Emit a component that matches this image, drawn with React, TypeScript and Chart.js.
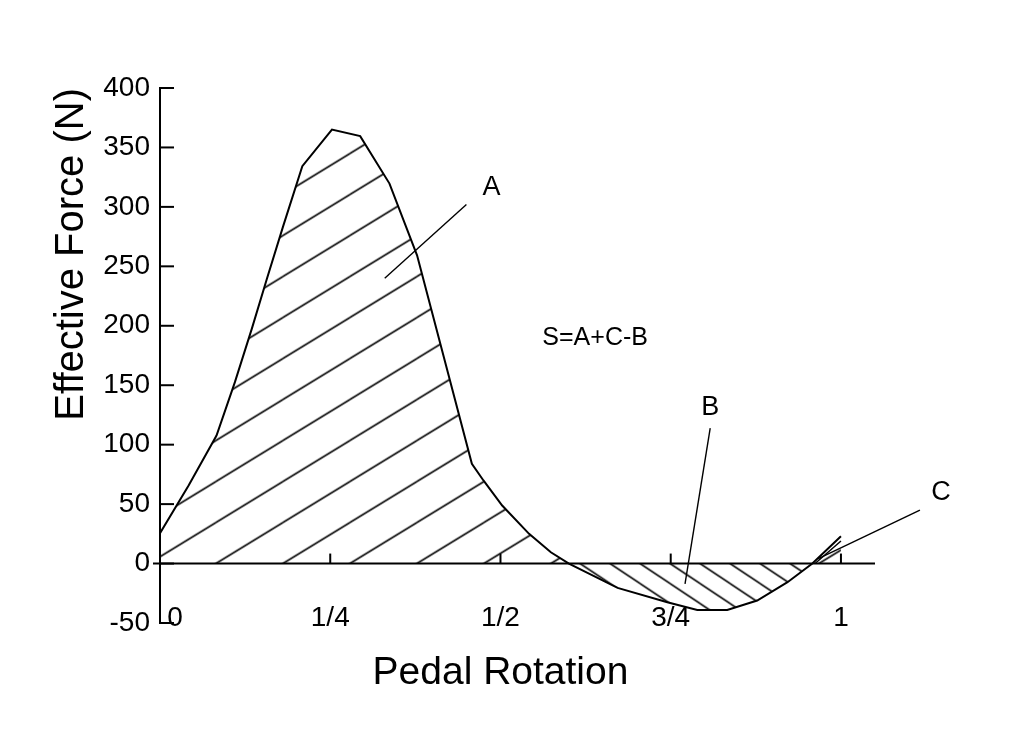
import { useEffect, useRef } from "react";
import { Chart, ChartConfiguration, Plugin, registerables } from "chart.js";

Chart.register(...registerables);

// pedal rotation (fraction of a turn) and effective force (N)
const rotation = [
  0, 0.042, 0.083, 0.11, 0.135, 0.157, 0.181, 0.209, 0.2525, 0.294, 0.337, 0.3775,
  0.458, 0.475, 0.5025, 0.542, 0.574, 0.6005, 0.672, 0.745, 0.789, 0.833, 0.877,
  0.9215, 0.958, 1.0,
];
const force = [
  25.5, 65.7, 107.7, 152.6, 197.8, 239.6, 284, 334.2, 365, 359.5, 319.6, 259.3,
  83.9, 69.9, 48.8, 25, 9.5, 0, -20.5, -32.6, -39, -39, -31.1,
  -15.7, 0, 23,
];

// second short stroke at the end of the cycle
const endStrokeRotation = [0.962, 1.0];
const endStrokeForce = [0, 19];

const yTickValues = [-50, 0, 50, 100, 150, 200, 250, 300, 350, 400];
const xTickValues = [0, 0.25, 0.5, 0.75, 1];
const xTickLabels = ["0", "1/4", "1/2", "3/4", "1"];

// callout texts and their anchor points (data units)
const calloutTexts = ["A", "S=A+C-B", "B", "C"];
const calloutX = [0.487, 0.639, 0.808, 1.147];
const calloutY = [316, 190, 131, 60];

// leader lines: start (near label) -> end (in region)
const leaderX1 = [0.45, 0.808, 1.116];
const leaderY1 = [302, 114, 45];
const leaderX2 = [0.33, 0.771, 0.966];
const leaderY2 = [240, -17, 4];

// where a hatch line meets the zero line
const hatchAnchorAbove = 0.082;
const hatchAnchorBelow = 0.661;

const FONT = "'Liberation Sans', Arial, sans-serif";

function makeHatch(w: number, h: number, rising: boolean) {
  const c = document.createElement("canvas");
  c.width = w;
  c.height = h;
  const g = c.getContext("2d")!;
  g.strokeStyle = "#000";
  g.lineWidth = 1.6;
  for (const dx of [-w, 0, w]) {
    for (const dy of [-h, 0, h]) {
      g.beginPath();
      if (rising) {
        g.moveTo(dx, h + dy);
        g.lineTo(w + dx, dy);
      } else {
        g.moveTo(dx, dy);
        g.lineTo(w + dx, h + dy);
      }
      g.stroke();
    }
  }
  const ctx = document.createElement("canvas").getContext("2d")!;
  return ctx.createPattern(c, "repeat")!;
}

export default function App() {
  const canvasRef = useRef<HTMLCanvasElement>(null);
  const chartRef = useRef<Chart | null>(null);

  useEffect(() => {
    document.body.style.margin = "0";
    if (!canvasRef.current) return;
    if (chartRef.current) chartRef.current.destroy();

    const ctx = canvasRef.current.getContext("2d");
    if (!ctx) return;

    const hatchAbove = makeHatch(67, 41, true);
    const hatchBelow = makeHatch(30, 20, false);

    const axesPlugin: Plugin = {
      id: "drawingAxes",
      beforeDatasetsDraw(chart) {
        const x = chart.scales.x;
        const y = chart.scales.y;
        const y0 = y.getPixelForValue(0);
        hatchAbove.setTransform(new DOMMatrix().translate(x.getPixelForValue(hatchAnchorAbove), y0));
        hatchBelow.setTransform(new DOMMatrix().translate(x.getPixelForValue(hatchAnchorBelow), y0));
      },
      afterDatasetsDraw(chart) {
        const c = chart.ctx;
        const x = chart.scales.x;
        const y = chart.scales.y;
        const area = chart.chartArea;
        const y0 = y.getPixelForValue(0);
        c.save();
        c.strokeStyle = "#000";
        c.fillStyle = "#000";
        c.lineWidth = 2;

        // zero line
        c.beginPath();
        c.moveTo(area.left - 7, y0);
        c.lineTo(area.right, y0);
        c.stroke();

        // inward y ticks
        yTickValues.forEach((v) => {
          const py = y.getPixelForValue(v);
          c.beginPath();
          c.moveTo(area.left, py);
          c.lineTo(area.left + 14, py);
          c.stroke();
        });

        // x ticks rising from zero line
        xTickValues.forEach((v) => {
          if (v === 0) return;
          const px = x.getPixelForValue(v);
          c.beginPath();
          c.moveTo(px, y0);
          c.lineTo(px, y0 - 10);
          c.stroke();
        });

        // x tick labels
        c.font = `28px ${FONT}`;
        c.textAlign = "center";
        c.textBaseline = "middle";
        xTickValues.forEach((v, i) => {
          let px = x.getPixelForValue(v);
          if (v === 0) px += 15;
          c.fillText(xTickLabels[i], px, area.bottom - 5);
        });

        // x title
        c.font = `39px ${FONT}`;
        c.fillText("Pedal Rotation", x.getPixelForValue(0.5), area.bottom + 50);

        // leaders
        c.lineWidth = 1.4;
        leaderX1.forEach((_, i) => {
          c.beginPath();
          c.moveTo(x.getPixelForValue(leaderX1[i]), y.getPixelForValue(leaderY1[i]));
          c.lineTo(x.getPixelForValue(leaderX2[i]), y.getPixelForValue(leaderY2[i]));
          c.stroke();
        });

        // callout texts
        calloutTexts.forEach((t, i) => {
          c.font = `${i === 1 ? 25 : 27}px ${FONT}`;
          c.fillText(t, x.getPixelForValue(calloutX[i]), y.getPixelForValue(calloutY[i]));
        });
        c.restore();
      },
    };

    const config: ChartConfiguration = {
      type: "line",
      data: {
        datasets: [
          {
            label: "Effective force",
            data: rotation.map((r, i) => ({ x: r, y: force[i] })),
            borderColor: "#000",
            borderWidth: 2,
            pointRadius: 0,
            tension: 0,
            fill: { target: "origin", above: hatchAbove, below: hatchBelow },
          },
          {
            label: "End stroke",
            data: endStrokeRotation.map((r, i) => ({ x: r, y: endStrokeForce[i] })),
            borderColor: "#000",
            borderWidth: 1.5,
            pointRadius: 0,
            fill: false,
          },
        ],
      },
      options: {
        responsive: false,
        animation: false,
        events: [],
        layout: { padding: { left: 0, top: 88, right: 149, bottom: 121 } },
        plugins: {
          legend: { display: false },
          tooltip: { enabled: false },
        },
        scales: {
          x: { type: "linear", display: false, min: 0, max: 1.05 },
          y: {
            type: "linear",
            min: -50,
            max: 400,
            afterFit: (s: any) => {
              s.width = 160;
            },
            ticks: {
              stepSize: 50,
              color: "#000",
              padding: 10,
              font: { family: FONT, size: 28 },
            },
            grid: { display: false, drawTicks: false },
            border: { display: true, color: "#000", width: 2 },
            title: {
              display: true,
              text: "Effective Force (N)",
              align: "end",
              color: "#000",
              font: { family: FONT, size: 40 },
              padding: { top: 48, bottom: 0 },
            },
          },
        },
      },
      plugins: [axesPlugin],
    };

    chartRef.current = new Chart(ctx, config);

    return () => {
      if (chartRef.current) {
        chartRef.current.destroy();
        chartRef.current = null;
      }
    };
  }, []);

  return (
    <div style={{ width: 1024, height: 744, background: "#fff" }}>
      <canvas ref={canvasRef} width={1024} height={744} style={{ display: "block" }} />
    </div>
  );
}
